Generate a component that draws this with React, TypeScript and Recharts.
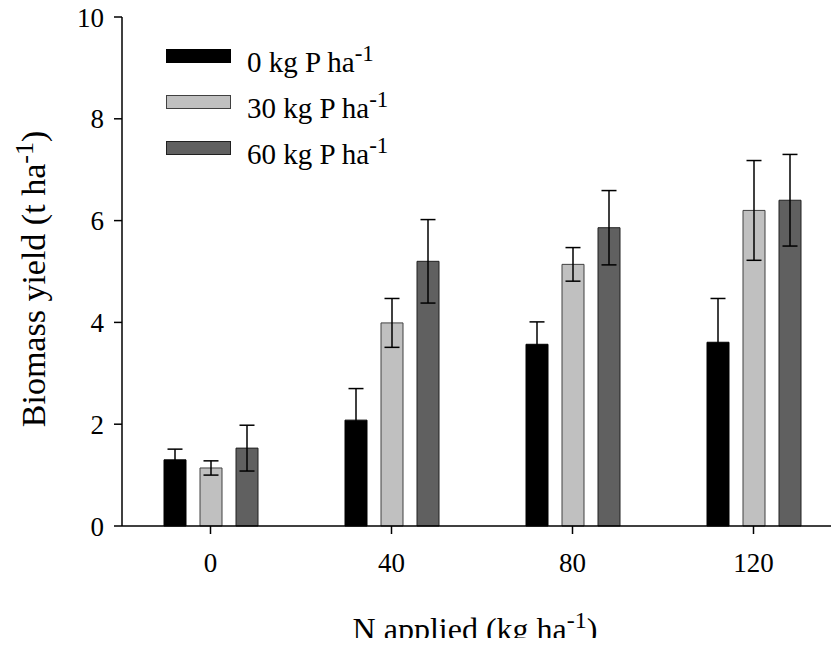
import { BarChart, Bar, XAxis, YAxis, ErrorBar, Legend } from 'recharts'

const nRates = ['0', '40', '80', '120']
const yieldP0 = [1.3, 2.08, 3.57, 3.61]
const yieldP30 = [1.14, 3.99, 5.14, 6.2]
const yieldP60 = [1.53, 5.2, 5.86, 6.4]
const errP0 = [0.21, 0.62, 0.44, 0.86]
const errP30 = [0.14, 0.48, 0.33, 0.98]
const errP60 = [0.45, 0.82, 0.73, 0.9]
const pRates = ['0', '30', '60']
const yTicks = [0, 2, 4, 6, 8, 10]

const FONT = "'Liberation Serif', 'Times New Roman', serif"

const series = [
    { key: 'p0', err: 'e0', fill: '#000000', stroke: '#000000', rate: pRates[0] },
    { key: 'p30', err: 'e30', fill: '#c0c0c0', stroke: '#404040', rate: pRates[1] },
    { key: 'p60', err: 'e60', fill: '#606060', stroke: '#202020', rate: pRates[2] },
]

const data = nRates.map((n, i) => ({
    n,
    p0: yieldP0[i],
    p30: yieldP30[i],
    p60: yieldP60[i],
    e0: errP0[i],
    e30: errP30[i],
    e60: errP60[i],
}))

function XTitle() {
    return (
        <text x={467} y={632} textAnchor="middle" fontFamily={FONT} fontSize={32} fill="#000">
            N applied (kg ha
            <tspan dy={-12} fontSize={24}>-1</tspan>
            <tspan dy={12}>)</tspan>
        </text>
    )
}

function YTitle() {
    return (
        <text
            transform="translate(37,271) rotate(-90)"
            textAnchor="middle"
            fontFamily={FONT}
            fontSize={34}
            fill="#000"
        >
            Biomass yield (t ha
            <tspan dy={-12} fontSize={26}>-1</tspan>
            <tspan dy={12}>)</tspan>
        </text>
    )
}

function LegendBox() {
    return (
        <svg width={300} height={160} style={{ display: 'block', overflow: 'visible' }}>
            {series.map((s, i) => (
                <g key={s.key}>
                    <rect x={16.5} y={19.5 + i * 46} width={64} height={13} fill={s.fill} stroke={s.stroke} />
                    <text x={97} y={42 + i * 46} fontFamily={FONT} fontSize={29} fill="#000">
                        {s.rate} kg P ha
                        <tspan dy={-11} fontSize={23}>-1</tspan>
                    </text>
                </g>
            ))}
        </svg>
    )
}

export default function App() {
    return (
        <div style={{ height: 638, marginBottom: -8 }}>
            <style>{`.recharts-surface { overflow: visible; }`}</style>
            <BarChart
                width={831}
                height={638}
                data={data}
                margin={{ top: 9, right: 0, left: 0, bottom: 8 }}
                barSize={22}
                barGap={14}
            >
                <XAxis
                    dataKey="n"
                    interval={0}
                    height={112}
                    padding={{ left: -2, right: -5 }}
                    tickSize={8}
                    tickMargin={19}
                    axisLine={{ stroke: '#000', strokeWidth: 1.5 }}
                    tickLine={{ stroke: '#000', strokeWidth: 1.5 }}
                    tick={{ fontSize: 27, fill: '#000', fontFamily: FONT }}
                    label={<XTitle />}
                />
                <YAxis
                    width={114}
                    domain={[0, 10]}
                    ticks={yTicks}
                    interval={0}
                    tickSize={8}
                    tickMargin={10}
                    axisLine={{ stroke: '#000', strokeWidth: 1.5 }}
                    tickLine={{ stroke: '#000', strokeWidth: 1.5 }}
                    tick={{ fontSize: 27, fill: '#000', fontFamily: FONT }}
                    label={<YTitle />}
                />
                <Legend
                    layout="vertical"
                    align="center"
                    verticalAlign="middle"
                    content={() => <LegendBox />}
                    wrapperStyle={{ position: 'absolute', left: 142, top: 22, width: 300, height: 160 }}
                />
                {series.map((s) => (
                    <Bar key={s.key} dataKey={s.key} fill={s.fill} stroke={s.stroke} strokeWidth={1} isAnimationActive={false}>
                        <ErrorBar dataKey={s.err} width={7.5} stroke="#000" strokeWidth={1.5} direction="y" />
                    </Bar>
                ))}
            </BarChart>
        </div>
    )
}
